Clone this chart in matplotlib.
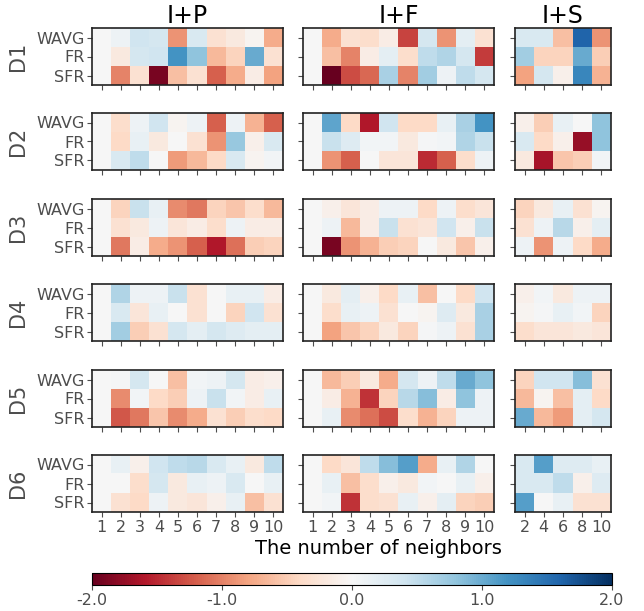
import numpy as np
import matplotlib
matplotlib.use("Agg")
import matplotlib.pyplot as plt
from matplotlib.ticker import FormatStrFormatter

datasets = ["D1", "D2", "D3", "D4", "D5", "D6"]
methods = ["I+P", "I+F", "I+S"]
metrics = ["WAVG", "FR", "SFR"]
neighbors_10 = [1, 2, 3, 4, 5, 6, 7, 8, 9, 10]
neighbors_5 = [2, 4, 6, 8, 10]

# D1
d1_ip = [[0, 0.1, 0.4, 0.35, -0.9, 0.3, -0.3, -0.2, -0.05, -0.75],
         [0, -0.2, 0.35, 0.4, 1.2, 0.8, -0.65, -0.45, 1.0, -0.3],
         [0, -1.0, -0.3, -1.9, -0.6, -0.3, -1.2, -0.75, -0.15, -0.8]]
d1_if = [[0, -0.75, -0.3, -0.35, -0.15, -1.35, 0.35, -0.9, 0.2, -0.3],
         [0, -0.6, -1.0, -0.15, 0.2, -0.35, 0.5, 0.6, 0.35, -1.4],
         [0, -2.0, -1.3, -1.15, 0.65, -1.0, 0.7, 0.1, 0.5, 0.35]]
d1_is = [[0.3, 0.3, -0.6, 1.6, -0.9],
         [0.7, -0.45, -0.45, 1.0, -0.5],
         [-0.8, 0.35, -0.1, 1.3, -0.7]]
# D2
d2_ip = [[0, -0.35, 0.1, 0.4, -0.05, 0.1, -1.2, 0.1, -0.7, -1.2],
         [0, -0.4, 0.15, -0.2, 0, -0.3, -0.9, 0.75, -0.1, 0.3],
         [0, 0.3, 0.5, 0, -0.85, -0.65, -0.4, 0.3, -0.05, 0.05]]
d2_if = [[0, 1.05, -0.4, -1.6, 0.4, -0.4, -0.4, 0.15, 0.65, 1.2],
         [0, 0.45, 0.25, 0.05, 0.05, -0.2, 0.03, 0.05, 0.6, 0.45],
         [0, -0.9, -1.2, 0, -0.25, -0.25, -1.5, -1.2, -0.35, 0.1]]
d2_is = [[-0.1, -0.5, 0.15, 0, 0.8],
         [0.3, -0.4, -0.1, -1.75, 0.8],
         [-0.2, -1.65, -0.55, -0.5, 0.05]]
# D3
d3_ip = [[0, -0.45, 0.45, 0.15, -0.95, -1.05, -0.45, -0.55, -0.35, -0.65],
         [0, -0.3, -0.2, 0.1, -0.25, -0.15, -0.35, 0.1, -0.15, -0.15],
         [0, -1.05, -0.15, -0.75, -0.9, -1.2, -1.6, -1.1, -0.5, -0.45]]
d3_if = [[0, -0.1, -0.25, -0.15, 0.1, 0.1, -0.4, 0.1, -0.35, -0.25],
         [0, 0.1, -0.65, -0.15, 0.45, -0.3, -0.25, 0.4, -0.1, 0.45],
         [0, -1.9, -0.9, -0.7, -0.5, -0.45, 0, -0.2, -0.55, -0.1]]
d3_is = [[-0.45, -0.2, 0.15, -0.3, -0.05],
         [-0.3, 0.1, 0.55, -0.1, 0.2],
         [0.1, -0.9, 0.1, -0.4, -0.75]]
# D4
d4_ip = [[0, 0.6, 0.1, 0.1, 0.45, -0.3, 0, 0.15, 0.15, -0.15],
         [0, 0.3, -0.25, 0.15, 0, -0.3, 0, -0.45, 0.4, -0.3],
         [0, 0.7, -0.5, -0.3, 0.35, 0.2, 0.35, 0.25, 0.2, 0.2]]
d4_if = [[0, -0.2, 0.2, -0.1, -0.4, 0.15, -0.6, 0, -0.4, 0.4],
         [0, -0.35, 0.15, 0.1, -0.3, 0, -0.05, 0.25, -0.2, 0.65],
         [0, -0.8, -0.55, -0.45, -0.2, -0.45, 0.02, 0.1, -0.3, 0.65]]
d4_is = [[-0.1, 0.05, -0.2, 0.1, 0.1],
         [-0.05, 0.03, 0.15, 0.05, -0.45],
         [-0.35, -0.25, -0.25, -0.2, -0.25]]
# D5
d5_ip = [[0, 0.03, 0.35, 0, -0.6, 0.05, 0.1, 0.35, -0.15, -0.1],
         [0, -0.95, 0.05, -0.4, -0.5, 0.1, 0.45, 0.05, -0.15, 0.15],
         [0, -1.25, -1.05, -0.55, -0.95, -0.75, -0.3, -0.5, -0.35, -0.4]]
d5_if = [[0, -0.65, -0.5, -0.2, -0.75, 0.35, 0.1, 0.5, 1.0, 0.8],
         [0, -0.15, -0.7, -1.45, -0.45, 0.55, 0.85, -0.15, 0.8, 0.1],
         [0, 0.15, -0.95, -1.1, -1.3, -0.35, -0.7, -0.45, 0.1, 0.1]]
d5_is = [[-0.45, 0.4, 0.4, 0.85, -0.3],
         [-0.65, -0.05, -0.6, 0.2, -0.4],
         [1.0, -0.65, -0.85, 0.2, 0.35]]
# D6
d6_ip = [[0, 0.15, -0.1, 0.4, 0.5, 0.55, 0.3, 0.15, -0.2, 0.5],
         [0, 0, -0.35, 0.35, -0.2, 0.15, 0.1, 0.3, 0, 0.15],
         [0, -0.3, -0.4, 0.1, -0.2, -0.25, -0.1, 0.15, -0.6, -0.3]]
d6_if = [[0, -0.4, -0.25, 0.5, 0.85, 1.1, -0.75, 0.15, 0.6, 0],
         [0, 0.15, -0.6, -0.35, -0.1, -0.2, 0.05, 0, 0.15, -0.1],
         [0, 0.05, -1.45, -0.35, -0.3, 0.15, -0.1, 0.2, -0.45, -0.5]]
d6_is = [[0.3, 1.1, 0.25, 0.25, 0.15],
         [0.3, 0.3, 0.5, -0.1, 0.25],
         [1.1, 0, 0.15, -0.3, -0.3]]

grid = [[d1_ip, d1_if, d1_is], [d2_ip, d2_if, d2_is], [d3_ip, d3_if, d3_is],
        [d4_ip, d4_if, d4_is], [d5_ip, d5_if, d5_is], [d6_ip, d6_if, d6_is]]
xlabels = [neighbors_10, neighbors_10, neighbors_5]

W, H = 644, 611
fig = plt.figure(figsize=(W / 100, H / 100), dpi=100)
gray = "#4d4d4d"

lefts = [92, 303, 515]
widths = [191, 191, 96]
tops = [28, 113, 199, 284, 370, 455]
ph = 57

im = None
for r, ds in enumerate(datasets):
    for c, m in enumerate(methods):
        ax = fig.add_axes([lefts[c] / W, 1 - (tops[r] + ph) / H, widths[c] / W, ph / H])
        data = np.array(grid[r][c])
        im = ax.imshow(data, cmap="RdBu", vmin=-2, vmax=2, aspect="auto",
                       interpolation="nearest")
        ax.set_xticks(range(len(xlabels[c])))
        ax.set_yticks(range(3))
        ax.tick_params(axis="both", length=3.5, width=0.8, color=gray,
                       labelcolor=gray, labelsize=11.5, pad=2)
        if c == 0:
            ax.set_yticklabels(metrics)
            ax.set_ylabel(ds, fontsize=15, color=gray, labelpad=6)
        else:
            ax.set_yticklabels([])
        if r == len(datasets) - 1:
            ax.set_xticklabels([str(v) for v in xlabels[c]], fontsize=11.5)
        else:
            ax.set_xticklabels([])
        if r == 0:
            ax.set_title(m, fontsize=17, pad=3)
        for s in ax.spines.values():
            s.set_linewidth(1.2)
            s.set_color("#222222")

fig.text(378 / W, 1 - 549 / H, "The number of neighbors",
         ha="center", va="center", fontsize=14)

cax = fig.add_axes([92 / W, 1 - 585 / H, 520 / W, 12 / H])
cb = fig.colorbar(im, cax=cax, orientation="horizontal", ticks=[-2, -1, 0, 1, 2])
cb.ax.xaxis.set_major_formatter(FormatStrFormatter("%.1f"))
cb.ax.tick_params(length=3.5, color=gray, labelcolor=gray, labelsize=11.5, pad=2)
cb.outline.set_linewidth(0.8)

fig.savefig("out.png", dpi=100)
